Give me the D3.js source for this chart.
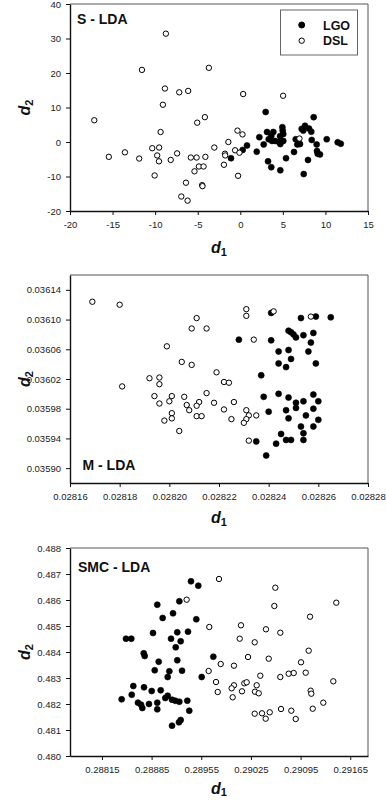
<!DOCTYPE html>
<html><head><meta charset="utf-8">
<script src="https://cdn.jsdelivr.net/npm/d3@7"></script>
<style>
body{margin:0;background:#fff}
svg{display:block}
text{font-family:"Liberation Sans",Arial,Helvetica,sans-serif}
</style>
</head><body>
<svg id="chart" width="386" height="801"></svg>
<script>
// ---------- Data ----------
const seriesNames = ["LGO", "DSL"];

// Panel S - LDA
const sLGO = [[2.98,8.7],[8.62,7.2],[-1.09,-4.7],[0.28,-2.3],[0.79,-1.0],[1.93,-2.8],[2.24,1.4],[2.75,-0.7],[3.14,2.9],[3.64,1.8],[3.88,2.9],[3.34,0.8],[3.73,0.3],[4.08,0.3],[4.67,1.7],[4.94,4.3],[4.98,3.3],[5.05,2.3],[4.55,0.0],[5.05,0.3],[4.7,-0.6],[3.26,-5.6],[3.64,-7.3],[4.7,-8.2],[5.37,-4.7],[6.31,-2.9],[6.51,0.8],[6.7,-0.7],[7.01,-0.6],[7.21,3.8],[7.6,4.7],[7.4,3.3],[8.07,3.9],[8.34,3.0],[8.39,0.6],[8.97,-0.7],[9.01,-2.6],[9.09,-3.4],[9.36,-3.6],[7.95,-5.2],[7.45,-9.3],[10.15,0.8],[11.44,-0.1],[11.8,-0.5]];
const sDSL = [[-17.15,6.3],[-8.74,31.4],[-11.55,20.9],[-3.69,21.5],[-8.85,15.5],[-7.17,14.4],[-6.12,14.8],[-9.09,10.8],[0.34,13.9],[5.03,13.4],[-5.06,5.6],[-4.16,7.2],[-9.36,2.9],[-0.33,3.3],[0.26,2.2],[-1.4,0.0],[-3.05,-1.6],[-10.34,-1.8],[-9.53,-1.6],[-9.76,-3.9],[-9.55,-5.6],[-15.44,-4.3],[-13.55,-3.0],[-11.87,-4.8],[-7.42,-3.3],[-8.17,-5.2],[-5.81,-4.5],[-5.13,-4.5],[-4.1,-4.3],[-1.8,-3.4],[-1.77,-3.9],[-1.92,-6.6],[-0.61,-2.4],[-0.1,-3.1],[-5.38,-8.5],[-4.86,-7.1],[-4.31,-7.1],[-10.06,-9.7],[-0.26,-9.8],[-6.38,-11.8],[-4.48,-12.5],[-4.44,-12.8],[-6.93,-15.8],[-6.19,-17.0],[6.95,1.0]];
const sXDomain = [-20, 15];
const sYDomain = [-20, 40];
const sXTicks = [-20, -15, -10, -5, 0, 5, 10, 15];
const sYTicks = [-20, -10, 0, 10, 20, 30, 40];

// Panel M - LDA
const mLGO = [[0.028241,0.036109],[0.028228,0.036073],[0.028241,0.036072],[0.028253,0.036102],[0.028259,0.036104],[0.028265,0.036103],[0.028248,0.036085],[0.028249,0.036083],[0.028250,0.036080],[0.028251,0.036076],[0.028254,0.036079],[0.028258,0.036082],[0.028257,0.036069],[0.028244,0.036057],[0.028248,0.036059],[0.028249,0.036047],[0.028244,0.036041],[0.028247,0.036036],[0.028256,0.036057],[0.028259,0.036041],[0.028237,0.036025],[0.028238,0.035996],[0.028244,0.036000],[0.028248,0.035995],[0.028240,0.035976],[0.028247,0.035978],[0.028251,0.035988],[0.028251,0.035981],[0.028254,0.035990],[0.028258,0.035999],[0.028260,0.035990],[0.028258,0.035980],[0.028255,0.035971],[0.028248,0.035967],[0.028260,0.035965],[0.028253,0.035956],[0.028258,0.035956],[0.028254,0.035947],[0.028245,0.035946],[0.028247,0.035938],[0.028249,0.035938],[0.028254,0.035938],[0.028243,0.035933],[0.028235,0.035936],[0.028239,0.035917]];
const mDSL = [[0.028169,0.036124],[0.028180,0.036120],[0.028181,0.036010],[0.028211,0.036102],[0.028209,0.036088],[0.028215,0.036088],[0.028199,0.036064],[0.028205,0.036043],[0.028209,0.036039],[0.028219,0.036029],[0.028192,0.036021],[0.028196,0.036022],[0.028196,0.036013],[0.028194,0.035997],[0.028196,0.035987],[0.028201,0.035997],[0.028200,0.035990],[0.028206,0.035996],[0.028207,0.035985],[0.028208,0.035978],[0.028212,0.035989],[0.028211,0.035984],[0.028215,0.036001],[0.028218,0.035988],[0.028201,0.035974],[0.028201,0.035967],[0.028198,0.035964],[0.028211,0.035970],[0.028213,0.035970],[0.028204,0.035950],[0.028231,0.036114],[0.028231,0.036105],[0.028242,0.036111],[0.028234,0.036073],[0.028257,0.036104],[0.028222,0.036016],[0.028224,0.036015],[0.028226,0.035989],[0.028222,0.035979],[0.028225,0.035966],[0.028231,0.035978],[0.028232,0.035971],[0.028235,0.035971],[0.028231,0.035966],[0.028230,0.035961],[0.028232,0.035937]];
const mXDomain = [0.02816, 0.02828];
const mYDomain = [0.03588, 0.03616];
const mXTicks = [0.02816, 0.02818, 0.02820, 0.02822, 0.02824, 0.02826, 0.02828];
const mYTicks = [0.03590, 0.03594, 0.03598, 0.03602, 0.03606, 0.03610, 0.03614];

// Panel SMC - LDA
const cLGO = [[0.288428,0.482181],[0.288489,0.484512],[0.288564,0.484512],[0.288592,0.482692],[0.288570,0.482358],[0.288743,0.482641],[0.288658,0.482051],[0.288701,0.481974],[0.288719,0.481846],[0.288813,0.482000],[0.288851,0.482500],[0.288978,0.482527],[0.288930,0.482051],[0.288930,0.481795],[0.289043,0.482230],[0.289077,0.482319],[0.289138,0.482165],[0.289184,0.482127],[0.289241,0.482088],[0.289353,0.482127],[0.289381,0.481742],[0.289138,0.481165],[0.289236,0.481296],[0.289260,0.481385],[0.288739,0.483950],[0.288753,0.483846],[0.288950,0.483627],[0.288894,0.483296],[0.289100,0.483258],[0.289077,0.483038],[0.289212,0.483681],[0.289279,0.483281],[0.289556,0.483038],[0.289720,0.483819],[0.288870,0.484731],[0.289124,0.484512],[0.289212,0.484758],[0.289260,0.484412],[0.289190,0.484181],[0.289363,0.484781],[0.289006,0.485308],[0.289152,0.485488],[0.289480,0.485258],[0.288930,0.485819],[0.289241,0.485950],[0.289405,0.486719],[0.289508,0.486550]];
const cDSL = [[0.289800,0.486808],[0.289344,0.486012],[0.289663,0.484962],[0.289654,0.483269],[0.289758,0.482846],[0.289782,0.482462],[0.289824,0.483538],[0.290594,0.486473],[0.290580,0.485769],[0.291453,0.485896],[0.291083,0.485358],[0.290110,0.485027],[0.290462,0.484873],[0.290664,0.484742],[0.290092,0.484512],[0.290303,0.484373],[0.290209,0.483808],[0.290501,0.483742],[0.291064,0.484050],[0.290956,0.483604],[0.290011,0.483473],[0.290382,0.483088],[0.290664,0.483038],[0.290782,0.483165],[0.290853,0.483192],[0.291022,0.483204],[0.291411,0.482873],[0.290157,0.482796],[0.290190,0.482835],[0.290011,0.482719],[0.289978,0.482604],[0.290124,0.482488],[0.290331,0.482719],[0.290307,0.482473],[0.290360,0.482412],[0.289993,0.482258],[0.291092,0.482512],[0.291101,0.482396],[0.291270,0.482051],[0.291121,0.481819],[0.290674,0.481808],[0.290819,0.481742],[0.290881,0.481423],[0.290303,0.481627],[0.290406,0.481642],[0.290458,0.481435],[0.290515,0.481681]];
const cXDomain = [0.2877, 0.2919];
const cYDomain = [0.480, 0.488];
const cXTicks = [0.28815, 0.28885, 0.28955, 0.29025, 0.29095, 0.29165];
const cYTicks = [0.480, 0.481, 0.482, 0.483, 0.484, 0.485, 0.486, 0.487, 0.488];

// ---------- Layout ----------
const svg = d3.select("#chart");
const left = 70, right = 368;
const font = '"Liberation Sans",Arial,Helvetica,sans-serif';

const panels = [
  {label: "S - LDA", lgo: sLGO, dsl: sDSL, xd: sXDomain, yd: sYDomain, xt: sXTicks, yt: sYTicks,
   xf: d => String(d), yf: d => String(d), top: 4, bottom: 211, lx: 77, ly: 24, tgap: 42, legend: true},
  {label: "M - LDA", lgo: mLGO, dsl: mDSL, xd: mXDomain, yd: mYDomain, xt: mXTicks, yt: mYTicks,
   xf: d3.format(".5f"), yf: d3.format(".5f"), top: 275, bottom: 483, lx: 82.5, ly: 469.5, tgap: 40, legend: false},
  {label: "SMC - LDA", lgo: cLGO, dsl: cDSL, xd: cXDomain, yd: cYDomain, xt: cXTicks, yt: cYTicks,
   xf: d3.format(".5f"), yf: d3.format(".3f"), top: 548, bottom: 756, lx: 78, ly: 571.5, tgap: 37.5, legend: false}
];

panels.forEach(p => {
  const x = d3.scaleLinear().domain(p.xd).range([left, right]);
  const y = d3.scaleLinear().domain(p.yd).range([p.bottom, p.top]);
  const g = svg.append("g");

  // frame top/right
  g.append("path")
    .attr("d", `M${left},${p.top}H${right}V${p.bottom}`)
    .attr("fill", "none").attr("stroke", "#555").attr("stroke-width", 1);

  const xa = g.append("g").attr("transform", `translate(0,${p.bottom})`)
    .call(d3.axisBottom(x).tickValues(p.xt).tickFormat(p.xf).tickSize(4).tickSizeOuter(0).tickPadding(6));
  const ya = g.append("g").attr("transform", `translate(${left},0)`)
    .call(d3.axisLeft(y).tickValues(p.yt).tickFormat(p.yf).tickSize(4).tickSizeOuter(0).tickPadding(5));
  [xa, ya].forEach(a => {
    a.select(".domain").attr("stroke", "#111").attr("stroke-width", 1.4);
    a.selectAll(".tick line").attr("stroke", "#111").attr("stroke-width", 1);
    a.selectAll(".tick text").attr("fill", "#222").style("font-size", "9.5px").style("font-family", font);
  });

  // points: LGO filled, then DSL open on top
  g.append("g").selectAll("circle").data(p.lgo).join("circle")
    .attr("cx", d => x(d[0])).attr("cy", d => y(d[1])).attr("r", 3)
    .attr("fill", "#000").attr("stroke", "#000").attr("stroke-width", 0.6);
  g.append("g").selectAll("circle").data(p.dsl).join("circle")
    .attr("cx", d => x(d[0])).attr("cy", d => y(d[1])).attr("r", 2.7)
    .attr("fill", "#fff").attr("stroke", "#000").attr("stroke-width", 1);

  // panel label
  g.append("text").attr("x", p.lx).attr("y", p.ly)
    .style("font-size", "14px").style("font-weight", "bold").attr("fill", "#111").text(p.label);

  // x title
  const xt = g.append("text").attr("x", (left + right) / 2).attr("y", p.bottom + p.tgap)
    .attr("text-anchor", "middle").attr("fill", "#111");
  xt.append("tspan").style("font-size", "16px").style("font-style", "italic").style("font-weight", "bold").text("d");
  xt.append("tspan").style("font-size", "11px").style("font-weight", "bold").attr("dy", 2.5).text("1");

  // y title
  const ytl = g.append("text")
    .attr("transform", `translate(30,${(p.top + p.bottom) / 2}) rotate(-90)`)
    .attr("text-anchor", "middle").attr("fill", "#111");
  ytl.append("tspan").style("font-size", "16px").style("font-style", "italic").style("font-weight", "bold").text("d");
  ytl.append("tspan").style("font-size", "11px").style("font-weight", "bold").attr("dy", 2.5).text("2");

  if (p.legend) {
    const lg = g.append("g");
    lg.append("rect").attr("x", 280.5).attr("y", 10).attr("width", 77).attr("height", 45)
      .attr("fill", "#fff").attr("stroke", "#666").attr("stroke-width", 1);
    const items = [{name: seriesNames[0], fill: "#000", r: 3}, {name: seriesNames[1], fill: "#fff", r: 2.7}];
    items.forEach((it, i) => {
      const cy = 25 + i * 15.7;
      lg.append("circle").attr("cx", 301.7).attr("cy", cy).attr("r", it.r)
        .attr("fill", it.fill).attr("stroke", "#000").attr("stroke-width", 1);
      lg.append("text").attr("x", 323).attr("y", cy + 4.5)
        .style("font-size", "12.5px").style("font-weight", "bold").attr("fill", "#111").text(it.name);
    });
  }
});
</script>
</body></html>
